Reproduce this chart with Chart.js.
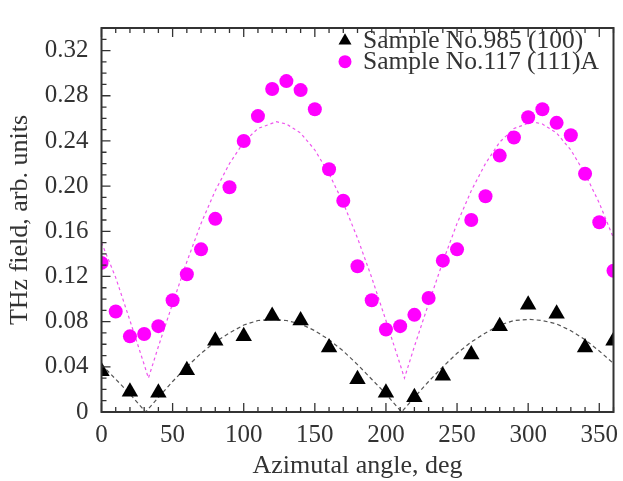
<!DOCTYPE html>
<html>
<head>
<meta charset="utf-8">
<script src="https://cdn.jsdelivr.net/npm/chart.js@4.4.1/dist/chart.umd.min.js"></script>
<style>
  html, body { margin: 0; padding: 0; background: #fff; }
  #wrap { width: 623px; height: 481px; }
</style>
</head>
<body>
<div id="wrap"><canvas id="chart" width="623" height="481"></canvas></div>
<script>
// measured points
const triAngles = [0, 20, 40, 60, 80, 100, 120, 140, 160, 180, 200, 220, 240, 260, 280, 300, 320, 340, 360];
const triValues = [0.036, 0.018, 0.017, 0.037, 0.063, 0.067, 0.085, 0.081, 0.057, 0.029, 0.017, 0.013, 0.032, 0.051, 0.076, 0.095, 0.087, 0.057, 0.063];

const dotAngles = [0, 10, 20, 30, 40, 50, 60, 70, 80, 90, 100, 110, 120, 130, 140, 150, 160, 170, 180,
                   190, 200, 210, 220, 230, 240, 250, 260, 270, 280, 290, 300, 310, 320, 330, 340, 350, 360];
const dotValues = [0.132, 0.089, 0.067, 0.069, 0.076, 0.099, 0.122, 0.144, 0.171, 0.199, 0.240, 0.262, 0.286, 0.293, 0.285, 0.268, 0.215, 0.187, 0.129,
                   0.099, 0.073, 0.076, 0.086, 0.101, 0.134, 0.144, 0.170, 0.191, 0.227, 0.243, 0.261, 0.268, 0.256, 0.245, 0.211, 0.168, 0.125];

// dashed fit curves
const blkFitX = [0, 10, 20, 31, 40, 50, 60, 70, 80, 90, 100, 110, 121, 130, 140, 150, 160, 170, 180,
                 190, 200, 211, 220, 230, 240, 250, 260, 270, 280, 290, 301, 310, 320, 330, 340, 350, 360];
const blkFitY = [0.042, 0.029, 0.016, 0, 0.013, 0.027, 0.040, 0.052, 0.062, 0.070, 0.077, 0.081, 0.082, 0.081, 0.078, 0.072, 0.064, 0.054, 0.042,
                 0.029, 0.016, 0, 0.013, 0.027, 0.040, 0.052, 0.062, 0.070, 0.077, 0.081, 0.082, 0.081, 0.078, 0.072, 0.064, 0.054, 0.043];

const magFitX = [0, 10, 20, 30, 33, 36, 40, 50, 60, 70, 80, 90, 100, 110, 123, 130, 140, 150, 160, 170, 180,
                 190, 200, 210, 213, 216, 220, 230, 240, 250, 260, 270, 280, 290, 303, 310, 320, 330, 340, 350, 360];
const magFitY = [0.150, 0.119, 0.081, 0.042, 0.030, 0.042, 0.058, 0.096, 0.133, 0.167, 0.196, 0.220, 0.239, 0.251, 0.257, 0.255, 0.247, 0.232, 0.211, 0.185, 0.154,
                 0.119, 0.081, 0.042, 0.030, 0.042, 0.058, 0.096, 0.133, 0.167, 0.196, 0.220, 0.239, 0.251, 0.257, 0.255, 0.247, 0.232, 0.211, 0.185, 0.154];

const seriesNames = ['Sample No.985 (100)', 'Sample No.117 (111)A'];
const xTitle = 'Azimutal angle, deg';
const yTitle = 'THz field, arb. units';

const xMin = 0, xMax = 360, xStep = 50, xMinor = 10;
const yMin = 0, yMax = 0.34, yStep = 0.04, yMinor = 0.01;

const FONT = '"Liberation Serif", "Times New Roman", serif';
const INK = '#333';

function pts(xs, ys) {
    return xs.map((x, i) => ({ x: x, y: ys[i] }));
}

// frame, inward ticks, axis titles and legend
const decor = {
    id: 'decor',
    afterDraw(chart) {
        const ctx = chart.ctx;
        const a = chart.chartArea;
        const xs = chart.scales.x;
        const ys = chart.scales.y;
        ctx.save();
        ctx.strokeStyle = INK;
        ctx.lineWidth = 1.3;
        ctx.beginPath();
        for (let v = xMin; v <= xMax + 0.001; v += xMinor) {
            const px = xs.getPixelForValue(v);
            const len = (Math.round(v) % xStep === 0) ? 9 : 5;
            ctx.moveTo(px, a.bottom); ctx.lineTo(px, a.bottom - len);
            ctx.moveTo(px, a.top); ctx.lineTo(px, a.top + len);
        }
        for (let k = 0; k * yMinor <= yMax + 1e-9; k++) {
            const py = ys.getPixelForValue(k * yMinor);
            const len = (k % 4 === 0) ? 9 : 5;
            ctx.moveTo(a.left, py); ctx.lineTo(a.left + len, py);
        }
        ctx.stroke();

        ctx.lineWidth = 2;
        ctx.strokeRect(a.left, a.top, a.right - a.left, a.bottom - a.top);

        ctx.fillStyle = INK;
        ctx.font = '26px ' + FONT;
        ctx.textAlign = 'center';
        ctx.textBaseline = 'alphabetic';
        ctx.fillText(xTitle, (a.left + a.right) / 2, 473);

        ctx.save();
        ctx.translate(27, (a.top + a.bottom) / 2);
        ctx.rotate(-Math.PI / 2);
        ctx.fillText(yTitle, 0, 0);
        ctx.restore();

        // legend
        const rows = [40.7, 61.7];
        ctx.fillStyle = '#000';
        ctx.beginPath();
        ctx.moveTo(345, rows[0] - 7.5);
        ctx.lineTo(345 + 6.5, rows[0] + 3.8);
        ctx.lineTo(345 - 6.5, rows[0] + 3.8);
        ctx.closePath();
        ctx.fill();
        ctx.fillStyle = '#ff00ff';
        ctx.beginPath();
        ctx.arc(345, rows[1], 6.5, 0, Math.PI * 2);
        ctx.fill();

        ctx.fillStyle = INK;
        ctx.font = '25.5px ' + FONT;
        ctx.textAlign = 'left';
        ctx.textBaseline = 'middle';
        ctx.fillText(seriesNames[0], 363, rows[0] + 1);
        ctx.fillText(seriesNames[1], 363, rows[1] + 1);
        ctx.restore();
    }
};

new Chart(document.getElementById('chart'), {
    type: 'scatter',
    data: {
        datasets: [
            {
                label: seriesNames[0],
                data: pts(triAngles, triValues),
                pointStyle: 'triangle',
                pointRadius: 9.5,
                pointBackgroundColor: '#000',
                pointBorderWidth: 0,
                showLine: false,
                order: 1
            },
            {
                label: seriesNames[1],
                data: pts(dotAngles, dotValues),
                pointStyle: 'circle',
                pointRadius: 7,
                pointBackgroundColor: '#ff00ff',
                pointBorderWidth: 0,
                showLine: false,
                order: 2
            },
            {
                label: 'fit 985',
                data: pts(blkFitX, blkFitY),
                showLine: true,
                pointRadius: 0,
                borderColor: '#555',
                borderWidth: 1.2,
                borderDash: [4, 3],
                tension: 0,
                order: 3
            },
            {
                label: 'fit 117',
                data: pts(magFitX, magFitY),
                showLine: true,
                pointRadius: 0,
                borderColor: '#ee55ee',
                borderWidth: 1.2,
                borderDash: [3, 3],
                tension: 0,
                order: 4
            }
        ]
    },
    options: {
        responsive: false,
        animation: false,
        devicePixelRatio: 1,
        layout: { padding: { left: 0, top: 11, right: 7, bottom: 0 } },
        plugins: {
            legend: { display: false },
            tooltip: { enabled: false }
        },
        scales: {
            x: {
                type: 'linear',
                min: xMin,
                max: xMax,
                grid: { display: false, drawTicks: false },
                border: { display: false },
                ticks: {
                    stepSize: xStep,
                    includeBounds: false,
                    padding: 8,
                    color: INK,
                    font: { family: FONT, size: 25 },
                    maxRotation: 0
                },
                afterFit(scale) { scale.height = 69; scale.paddingRight = 0; }
            },
            y: {
                type: 'linear',
                min: yMin,
                max: yMax,
                grid: { display: false, drawTicks: false },
                border: { display: false },
                ticks: {
                    stepSize: yStep,
                    includeBounds: false,
                    padding: 13,
                    color: INK,
                    font: { family: FONT, size: 25 },
                    callback: v => (Math.abs(v) < 1e-9 ? '0' : v.toFixed(2))
                },
                afterFit(scale) { scale.width = 101.5; }
            }
        }
    },
    plugins: [decor]
});
</script>
</body>
</html>
